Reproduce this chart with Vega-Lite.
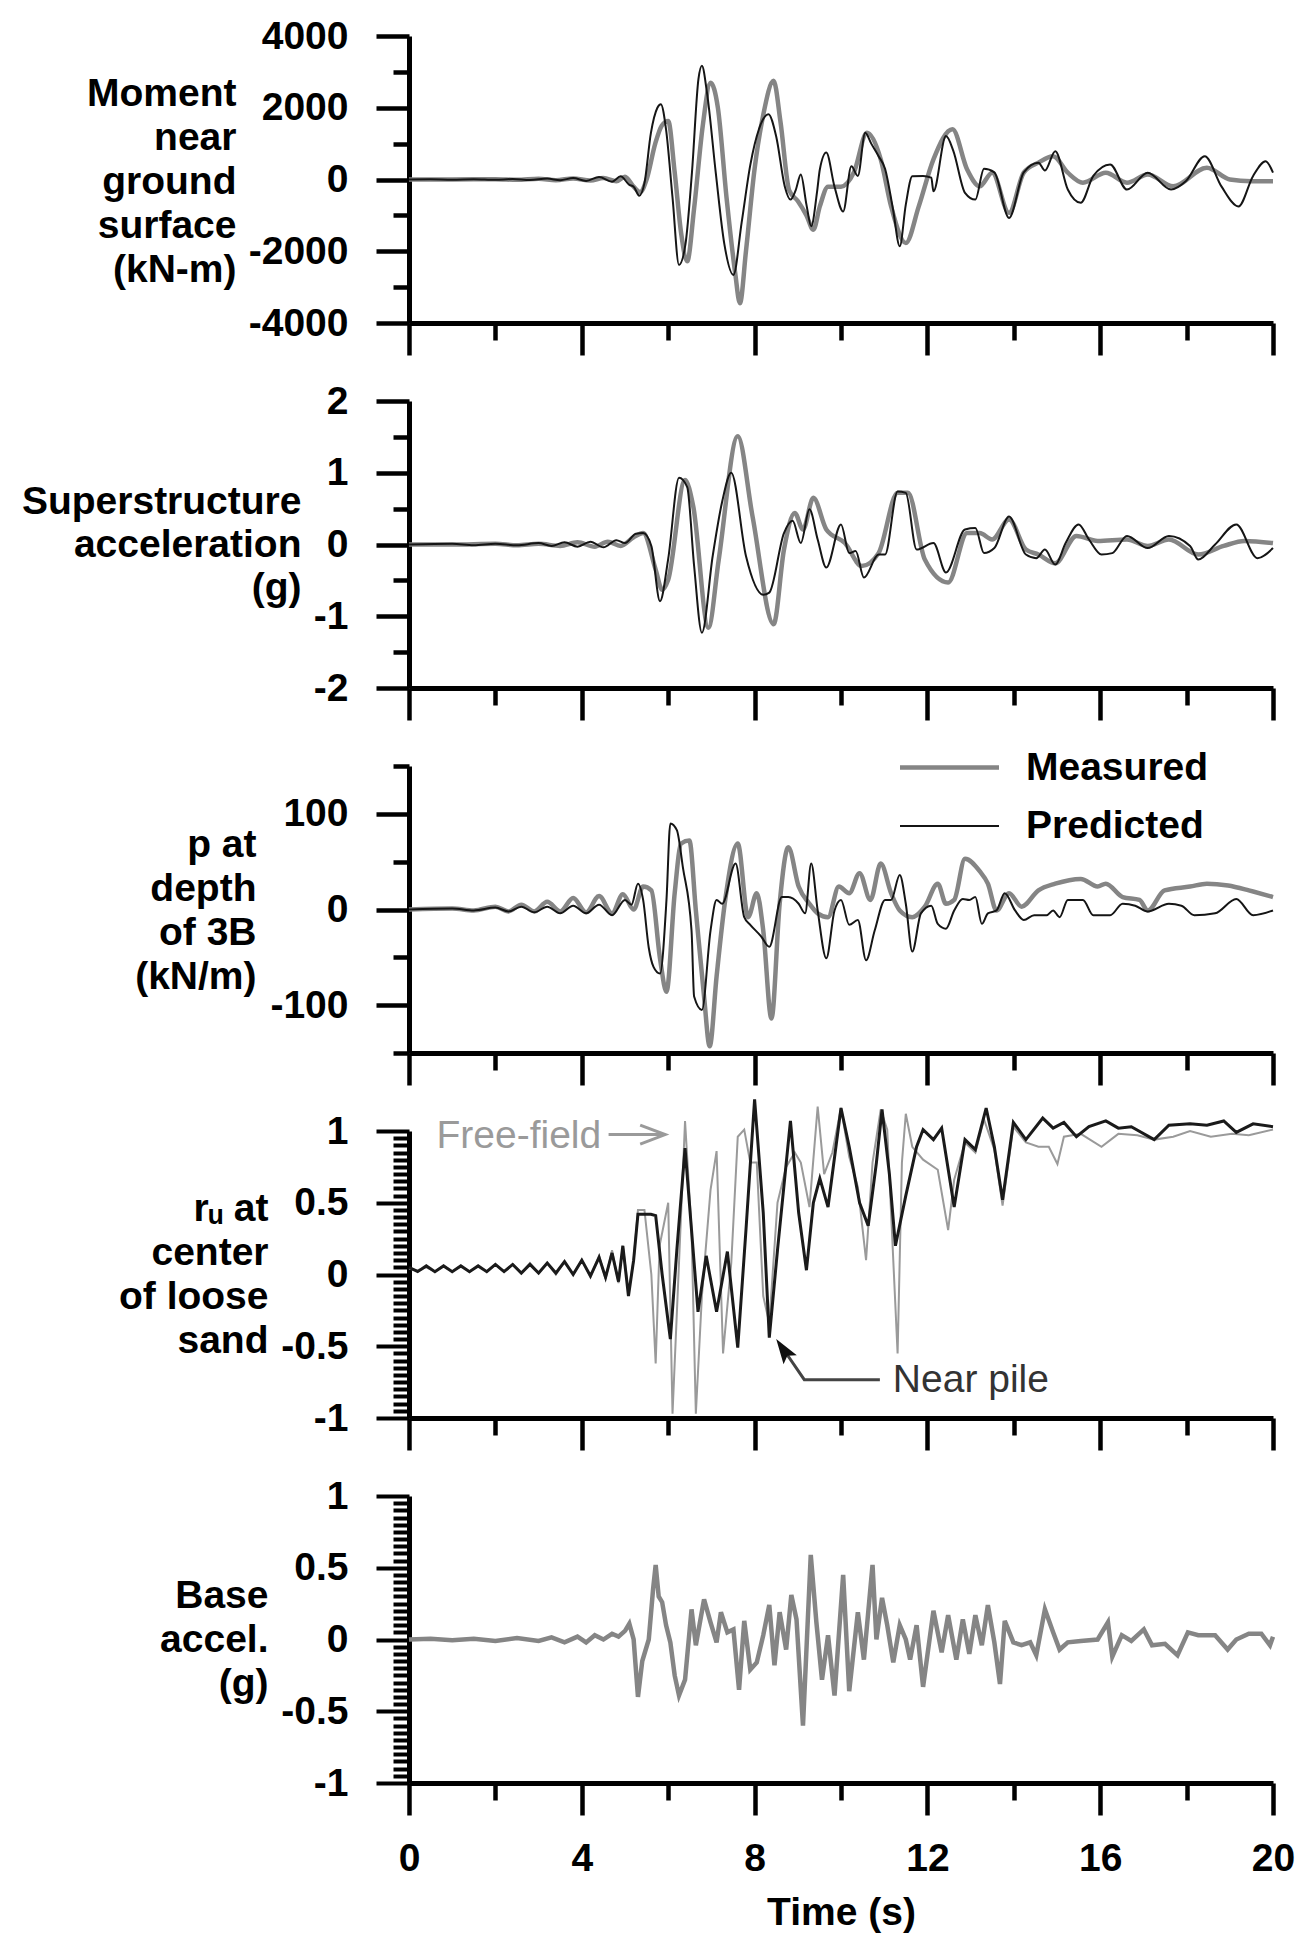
{
  "$schema": "https://vega.github.io/schema/vega-lite/v6.json",
  "background": "white",
  "padding": {"left": 21, "top": 17, "right": 6, "bottom": 2},
  "datasets": {
    "p1p": [{"t":0,"v":0},{"t":0.5,"v":5},{"t":1,"v":-5},{"t":1.5,"v":10},{"t":2,"v":-10},{"t":2.4,"v":15},{"t":2.8,"v":-15},{"t":3.2,"v":25},{"t":3.5,"v":-20},{"t":3.8,"v":40},{"t":4.1,"v":-40},{"t":4.4,"v":70},{"t":4.7,"v":-60},{"t":4.9,"v":90},{"t":5.1,"v":-150},{"t":5.2,"v":-200},{"t":5.33,"v":-450},{"t":5.45,"v":-100},{"t":5.6,"v":1300},{"t":5.75,"v":2000},{"t":5.83,"v":2100},{"t":5.95,"v":1400},{"t":6.1,"v":-500},{"t":6.25,"v":-2380},{"t":6.4,"v":-1800},{"t":6.55,"v":200},{"t":6.7,"v":2800},{"t":6.78,"v":3170},{"t":6.9,"v":2400},{"t":7.1,"v":200},{"t":7.3,"v":-1800},{"t":7.51,"v":-2660},{"t":7.7,"v":-1200},{"t":7.9,"v":400},{"t":8.1,"v":1400},{"t":8.32,"v":1820},{"t":8.5,"v":1200},{"t":8.7,"v":-200},{"t":8.83,"v":-560},{"t":8.95,"v":-300},{"t":9.07,"v":140},{"t":9.2,"v":-700},{"t":9.31,"v":-1300},{"t":9.45,"v":-300},{"t":9.51,"v":280},{"t":9.66,"v":750},{"t":9.85,"v":-200},{"t":10.05,"v":-890},{"t":10.24,"v":370},{"t":10.39,"v":100},{"t":10.56,"v":1300},{"t":10.7,"v":1000},{"t":10.87,"v":650},{"t":11.02,"v":300},{"t":11.2,"v":-800},{"t":11.36,"v":-1860},{"t":11.5,"v":-700},{"t":11.65,"v":90},{"t":11.9,"v":100},{"t":12.09,"v":50},{"t":12.14,"v":-330},{"t":12.43,"v":1210},{"t":12.6,"v":800},{"t":12.87,"v":-370},{"t":13.11,"v":-560},{"t":13.31,"v":300},{"t":13.55,"v":200},{"t":13.89,"v":-1070},{"t":14.23,"v":200},{"t":14.57,"v":470},{"t":14.72,"v":250},{"t":14.96,"v":790},{"t":15.25,"v":-280},{"t":15.55,"v":-650},{"t":15.84,"v":100},{"t":16.23,"v":420},{"t":16.62,"v":-280},{"t":17.1,"v":190},{"t":17.64,"v":-280},{"t":17.98,"v":-50},{"t":18.42,"v":650},{"t":18.81,"v":-200},{"t":19.2,"v":-750},{"t":19.54,"v":100},{"t":19.83,"v":510},{"t":20,"v":190}],
    "p1m": [{"t":0,"v":0},{"t":1,"v":0},{"t":2,"v":10},{"t":2.5,"v":-10},{"t":3,"v":20},{"t":3.4,"v":-20},{"t":3.8,"v":30},{"t":4.2,"v":-30},{"t":4.5,"v":40},{"t":4.8,"v":-50},{"t":5.0,"v":80},{"t":5.2,"v":-200},{"t":5.35,"v":-350},{"t":5.5,"v":0},{"t":5.7,"v":1000},{"t":5.85,"v":1500},{"t":6.0,"v":1630},{"t":6.15,"v":200},{"t":6.3,"v":-1500},{"t":6.44,"v":-2280},{"t":6.6,"v":-800},{"t":6.8,"v":1500},{"t":6.98,"v":2700},{"t":7.15,"v":2000},{"t":7.35,"v":-500},{"t":7.55,"v":-2600},{"t":7.66,"v":-3450},{"t":7.8,"v":-2000},{"t":8.0,"v":300},{"t":8.2,"v":1800},{"t":8.44,"v":2750},{"t":8.6,"v":1600},{"t":8.8,"v":-300},{"t":9.0,"v":-600},{"t":9.2,"v":-1000},{"t":9.36,"v":-1400},{"t":9.51,"v":-750},{"t":9.7,"v":-200},{"t":10.0,"v":-200},{"t":10.3,"v":200},{"t":10.6,"v":1300},{"t":10.92,"v":560},{"t":11.16,"v":-750},{"t":11.5,"v":-1770},{"t":11.8,"v":-750},{"t":12.14,"v":560},{"t":12.58,"v":1400},{"t":12.92,"v":280},{"t":13.21,"v":-190},{"t":13.5,"v":190},{"t":13.89,"v":-930},{"t":14.23,"v":190},{"t":14.57,"v":470},{"t":14.91,"v":650},{"t":15.25,"v":190},{"t":15.6,"v":-90},{"t":16.13,"v":190},{"t":16.62,"v":-90},{"t":17.1,"v":140},{"t":17.69,"v":-190},{"t":18.47,"v":330},{"t":19.0,"v":0},{"t":19.5,"v":-50},{"t":20,"v":-50}],
    "p2p": [{"t":0,"v":0},{"t":1,"v":0.01},{"t":1.5,"v":-0.01},{"t":2,"v":0.01},{"t":2.5,"v":-0.01},{"t":3,"v":0.02},{"t":3.3,"v":-0.02},{"t":3.6,"v":0.03},{"t":3.9,"v":-0.03},{"t":4.2,"v":0.04},{"t":4.5,"v":-0.04},{"t":4.8,"v":0.06},{"t":5.0,"v":0.02},{"t":5.25,"v":0.15},{"t":5.42,"v":0.16},{"t":5.61,"v":-0.02},{"t":5.81,"v":-0.79},{"t":6.0,"v":-0.2},{"t":6.25,"v":0.93},{"t":6.44,"v":0.8},{"t":6.6,"v":-0.3},{"t":6.78,"v":-1.23},{"t":7.03,"v":-0.16},{"t":7.25,"v":0.6},{"t":7.46,"v":1.0},{"t":7.8,"v":-0.16},{"t":8.2,"v":-0.7},{"t":8.34,"v":-0.67},{"t":8.68,"v":0.16},{"t":8.88,"v":0.33},{"t":9.07,"v":0.02},{"t":9.27,"v":0.49},{"t":9.46,"v":0.07},{"t":9.66,"v":-0.32},{"t":10.0,"v":0.28},{"t":10.19,"v":-0.12},{"t":10.34,"v":-0.09},{"t":10.53,"v":-0.46},{"t":10.87,"v":-0.14},{"t":11.02,"v":-0.14},{"t":11.31,"v":0.74},{"t":11.5,"v":0.72},{"t":11.75,"v":-0.07},{"t":12.14,"v":0.02},{"t":12.43,"v":-0.39},{"t":12.87,"v":0.21},{"t":13.11,"v":0.23},{"t":13.31,"v":-0.12},{"t":13.55,"v":-0.05},{"t":13.89,"v":0.39},{"t":14.28,"v":-0.14},{"t":14.52,"v":-0.19},{"t":14.72,"v":-0.07},{"t":14.96,"v":-0.28},{"t":15.2,"v":0.02},{"t":15.5,"v":0.28},{"t":15.74,"v":0.07},{"t":16.03,"v":-0.14},{"t":16.28,"v":-0.12},{"t":16.62,"v":0.12},{"t":17.1,"v":-0.05},{"t":17.59,"v":0.12},{"t":18.08,"v":-0.02},{"t":18.27,"v":-0.21},{"t":18.66,"v":0.0},{"t":19.15,"v":0.28},{"t":19.64,"v":-0.19},{"t":20,"v":-0.05}],
    "p2m": [{"t":0,"v":0},{"t":1,"v":0},{"t":2,"v":0.01},{"t":2.5,"v":-0.01},{"t":3,"v":0.01},{"t":3.5,"v":-0.02},{"t":3.9,"v":0.03},{"t":4.3,"v":-0.03},{"t":4.6,"v":0.04},{"t":4.9,"v":-0.02},{"t":5.2,"v":0.1},{"t":5.42,"v":0.16},{"t":5.71,"v":-0.35},{"t":5.86,"v":-0.63},{"t":6.0,"v":-0.49},{"t":6.39,"v":0.9},{"t":6.58,"v":0.53},{"t":6.93,"v":-1.16},{"t":7.17,"v":-0.21},{"t":7.61,"v":1.51},{"t":7.95,"v":0.4},{"t":8.44,"v":-1.11},{"t":8.68,"v":-0.07},{"t":8.93,"v":0.44},{"t":9.12,"v":0.21},{"t":9.36,"v":0.65},{"t":9.66,"v":0.21},{"t":10.09,"v":0.02},{"t":10.48,"v":-0.3},{"t":10.87,"v":-0.12},{"t":11.31,"v":0.72},{"t":11.55,"v":0.72},{"t":11.94,"v":-0.21},{"t":12.48,"v":-0.53},{"t":12.92,"v":0.16},{"t":13.21,"v":0.16},{"t":13.5,"v":0.07},{"t":13.89,"v":0.35},{"t":14.28,"v":-0.07},{"t":14.57,"v":-0.14},{"t":14.96,"v":-0.26},{"t":15.45,"v":0.12},{"t":15.94,"v":0.05},{"t":16.62,"v":0.07},{"t":17.1,"v":-0.02},{"t":17.59,"v":0.07},{"t":18.27,"v":-0.14},{"t":18.86,"v":-0.02},{"t":19.34,"v":0.05},{"t":20,"v":0.02}],
    "p3p": [{"t":0,"v":0},{"t":1,"v":1},{"t":1.5,"v":-1},{"t":2,"v":2},{"t":2.3,"v":-2},{"t":2.6,"v":3},{"t":2.9,"v":-3},{"t":3.2,"v":3},{"t":3.5,"v":-4},{"t":3.8,"v":4},{"t":4.1,"v":-4},{"t":4.4,"v":5},{"t":4.7,"v":-6},{"t":5.0,"v":10},{"t":5.15,"v":5},{"t":5.3,"v":27},{"t":5.42,"v":10},{"t":5.55,"v":-40},{"t":5.66,"v":-60},{"t":5.81,"v":-67},{"t":5.96,"v":10},{"t":6.05,"v":90},{"t":6.2,"v":83},{"t":6.34,"v":44},{"t":6.54,"v":-22},{"t":6.6,"v":-91},{"t":6.78,"v":-105},{"t":6.98,"v":-22},{"t":7.12,"v":10},{"t":7.25,"v":6},{"t":7.56,"v":48},{"t":7.76,"v":-8},{"t":7.9,"v":-16},{"t":8.15,"v":-28},{"t":8.34,"v":-39},{"t":8.63,"v":13},{"t":8.78,"v":13},{"t":9.02,"v":6},{"t":9.17,"v":-4},{"t":9.31,"v":48},{"t":9.46,"v":-1},{"t":9.66,"v":-51},{"t":9.85,"v":-1},{"t":10.0,"v":10},{"t":10.19,"v":-16},{"t":10.39,"v":-11},{"t":10.58,"v":-53},{"t":10.78,"v":-22},{"t":11.02,"v":10},{"t":11.16,"v":10},{"t":11.36,"v":36},{"t":11.5,"v":6},{"t":11.65,"v":-44},{"t":11.85,"v":-4},{"t":12.09,"v":4},{"t":12.24,"v":-15},{"t":12.43,"v":-20},{"t":12.62,"v":-1},{"t":12.82,"v":11},{"t":12.97,"v":10},{"t":13.11,"v":13},{"t":13.26,"v":-15},{"t":13.4,"v":-4},{"t":13.6,"v":-1},{"t":13.79,"v":17},{"t":14.03,"v":-1},{"t":14.23,"v":-11},{"t":14.47,"v":-6},{"t":14.76,"v":-6},{"t":14.91,"v":-1},{"t":15.06,"v":-8},{"t":15.25,"v":10},{"t":15.6,"v":10},{"t":15.84,"v":-6},{"t":16.23,"v":-6},{"t":16.52,"v":6},{"t":16.81,"v":4},{"t":17.1,"v":-2},{"t":17.59,"v":6},{"t":17.88,"v":4},{"t":18.18,"v":-6},{"t":18.66,"v":-4},{"t":19.15,"v":11},{"t":19.54,"v":-6},{"t":20,"v":-1}],
    "p3m": [{"t":0,"v":0},{"t":1,"v":1},{"t":1.5,"v":-1},{"t":2,"v":3},{"t":2.3,"v":-2},{"t":2.6,"v":5},{"t":2.9,"v":-2},{"t":3.2,"v":8},{"t":3.5,"v":-2},{"t":3.8,"v":12},{"t":4.1,"v":-3},{"t":4.4,"v":14},{"t":4.7,"v":-4},{"t":4.95,"v":16},{"t":5.2,"v":0},{"t":5.42,"v":24},{"t":5.61,"v":20},{"t":5.81,"v":-51},{"t":5.96,"v":-86},{"t":6.15,"v":17},{"t":6.3,"v":69},{"t":6.49,"v":72},{"t":6.64,"v":-1},{"t":6.83,"v":-91},{"t":6.96,"v":-143},{"t":7.12,"v":-70},{"t":7.32,"v":10},{"t":7.61,"v":69},{"t":7.85,"v":-8},{"t":8.05,"v":17},{"t":8.2,"v":-22},{"t":8.39,"v":-114},{"t":8.58,"v":6},{"t":8.78,"v":65},{"t":9.02,"v":24},{"t":9.27,"v":6},{"t":9.46,"v":-4},{"t":9.7,"v":-8},{"t":9.95,"v":24},{"t":10.19,"v":17},{"t":10.43,"v":38},{"t":10.68,"v":10},{"t":10.92,"v":48},{"t":11.16,"v":17},{"t":11.36,"v":-1},{"t":11.65,"v":-8},{"t":11.94,"v":3},{"t":12.24,"v":27},{"t":12.43,"v":6},{"t":12.62,"v":10},{"t":12.87,"v":53},{"t":13.21,"v":40},{"t":13.4,"v":27},{"t":13.6,"v":-1},{"t":13.89,"v":17},{"t":14.18,"v":3},{"t":14.57,"v":20},{"t":14.96,"v":27},{"t":15.55,"v":32},{"t":15.94,"v":24},{"t":16.13,"v":27},{"t":16.52,"v":13},{"t":16.91,"v":10},{"t":17.1,"v":-1},{"t":17.49,"v":20},{"t":18.08,"v":24},{"t":18.47,"v":27},{"t":18.96,"v":25},{"t":19.44,"v":20},{"t":20,"v":13}],
    "p4n": [{"t":0,"v":0.05},{"t":0.2,"v":0.02},{"t":0.4,"v":0.06},{"t":0.6,"v":0.02},{"t":0.8,"v":0.06},{"t":1.0,"v":0.02},{"t":1.2,"v":0.06},{"t":1.4,"v":0.02},{"t":1.6,"v":0.06},{"t":1.8,"v":0.02},{"t":2.0,"v":0.07},{"t":2.2,"v":0.02},{"t":2.4,"v":0.07},{"t":2.6,"v":0.01},{"t":2.8,"v":0.07},{"t":3.0,"v":0.01},{"t":3.2,"v":0.08},{"t":3.4,"v":0.01},{"t":3.6,"v":0.09},{"t":3.8,"v":0.0},{"t":4.0,"v":0.1},{"t":4.2,"v":-0.01},{"t":4.4,"v":0.12},{"t":4.55,"v":-0.02},{"t":4.7,"v":0.15},{"t":4.85,"v":-0.05},{"t":4.95,"v":0.2},{"t":5.08,"v":-0.15},{"t":5.2,"v":0.1},{"t":5.3,"v":0.42},{"t":5.42,"v":0.42},{"t":5.6,"v":0.42},{"t":5.71,"v":0.41},{"t":5.86,"v":0.0},{"t":6.05,"v":-0.45},{"t":6.2,"v":0.17},{"t":6.39,"v":0.88},{"t":6.54,"v":0.31},{"t":6.69,"v":-0.26},{"t":6.88,"v":0.13},{"t":7.12,"v":-0.26},{"t":7.37,"v":0.16},{"t":7.61,"v":-0.51},{"t":7.8,"v":0.31},{"t":8.0,"v":1.22},{"t":8.2,"v":0.43},{"t":8.34,"v":-0.44},{"t":8.53,"v":0.17},{"t":8.83,"v":1.07},{"t":9.02,"v":0.43},{"t":9.2,"v":0.03},{"t":9.36,"v":0.5},{"t":9.51,"v":0.67},{"t":9.7,"v":0.47},{"t":10.0,"v":1.16},{"t":10.19,"v":0.89},{"t":10.43,"v":0.5},{"t":10.63,"v":0.34},{"t":10.82,"v":0.78},{"t":10.95,"v":1.15},{"t":11.12,"v":0.7},{"t":11.26,"v":0.2},{"t":11.5,"v":0.55},{"t":11.75,"v":0.89},{"t":11.9,"v":1.01},{"t":12.14,"v":0.94},{"t":12.33,"v":1.02},{"t":12.62,"v":0.47},{"t":12.87,"v":0.94},{"t":13.11,"v":0.87},{"t":13.36,"v":1.16},{"t":13.55,"v":0.89},{"t":13.74,"v":0.52},{"t":13.99,"v":1.06},{"t":14.28,"v":0.94},{"t":14.67,"v":1.09},{"t":14.91,"v":1.02},{"t":15.16,"v":1.06},{"t":15.45,"v":0.96},{"t":15.74,"v":1.03},{"t":16.13,"v":1.07},{"t":16.42,"v":1.02},{"t":16.72,"v":1.03},{"t":17.25,"v":0.94},{"t":17.59,"v":1.04},{"t":18.08,"v":1.05},{"t":18.47,"v":1.04},{"t":18.86,"v":1.07},{"t":19.15,"v":0.99},{"t":19.54,"v":1.05},{"t":20,"v":1.03}],
    "p4f": [{"t":0,"v":0.04},{"t":0.2,"v":0.03},{"t":0.4,"v":0.05},{"t":0.6,"v":0.02},{"t":0.8,"v":0.06},{"t":1.0,"v":0.02},{"t":1.2,"v":0.06},{"t":1.4,"v":0.02},{"t":1.6,"v":0.06},{"t":1.8,"v":0.02},{"t":2.0,"v":0.07},{"t":2.2,"v":0.02},{"t":2.4,"v":0.07},{"t":2.6,"v":0.01},{"t":2.8,"v":0.08},{"t":3.0,"v":0.01},{"t":3.2,"v":0.08},{"t":3.4,"v":0.0},{"t":3.6,"v":0.09},{"t":3.8,"v":0.0},{"t":4.0,"v":0.1},{"t":4.2,"v":-0.02},{"t":4.4,"v":0.13},{"t":4.55,"v":-0.03},{"t":4.7,"v":0.17},{"t":4.85,"v":-0.06},{"t":4.95,"v":0.2},{"t":5.08,"v":-0.12},{"t":5.2,"v":0.1},{"t":5.3,"v":0.45},{"t":5.45,"v":0.45},{"t":5.61,"v":0.0},{"t":5.71,"v":-0.62},{"t":5.8,"v":0.2},{"t":6.0,"v":0.5},{"t":6.1,"v":-0.97},{"t":6.25,"v":0.08},{"t":6.39,"v":1.07},{"t":6.54,"v":0.31},{"t":6.64,"v":-0.97},{"t":6.78,"v":-0.15},{"t":6.98,"v":0.59},{"t":7.12,"v":0.86},{"t":7.27,"v":-0.55},{"t":7.46,"v":0.08},{"t":7.61,"v":0.96},{"t":7.76,"v":1.01},{"t":7.9,"v":0.78},{"t":8.05,"v":0.78},{"t":8.2,"v":-0.15},{"t":8.34,"v":-0.34},{"t":8.53,"v":0.5},{"t":8.73,"v":0.75},{"t":8.93,"v":0.85},{"t":9.07,"v":0.78},{"t":9.27,"v":0.47},{"t":9.46,"v":1.17},{"t":9.61,"v":0.7},{"t":9.8,"v":0.85},{"t":10.0,"v":1.16},{"t":10.19,"v":0.82},{"t":10.39,"v":0.61},{"t":10.58,"v":0.1},{"t":10.73,"v":0.78},{"t":10.92,"v":1.15},{"t":11.07,"v":1.01},{"t":11.31,"v":-0.55},{"t":11.41,"v":0.78},{"t":11.5,"v":1.12},{"t":11.65,"v":0.89},{"t":11.9,"v":0.8},{"t":12.24,"v":0.73},{"t":12.48,"v":0.31},{"t":12.62,"v":0.66},{"t":12.87,"v":0.92},{"t":13.11,"v":0.85},{"t":13.31,"v":1.08},{"t":13.55,"v":0.87},{"t":13.74,"v":0.48},{"t":13.99,"v":1.03},{"t":14.28,"v":0.92},{"t":14.57,"v":0.89},{"t":14.81,"v":0.89},{"t":15.01,"v":0.77},{"t":15.16,"v":0.96},{"t":15.55,"v":0.98},{"t":16.03,"v":0.89},{"t":16.42,"v":0.98},{"t":16.86,"v":0.97},{"t":17.25,"v":0.94},{"t":17.69,"v":0.96},{"t":18.08,"v":1.0},{"t":18.56,"v":0.96},{"t":19.05,"v":0.98},{"t":19.44,"v":0.97},{"t":20,"v":1.01}],
    "p5": [{"t":0,"v":0},{"t":0.5,"v":0.005},{"t":1,"v":-0.005},{"t":1.5,"v":0.005},{"t":2,"v":-0.01},{"t":2.5,"v":0.01},{"t":3,"v":-0.01},{"t":3.3,"v":0.015},{"t":3.6,"v":-0.02},{"t":3.9,"v":0.02},{"t":4.1,"v":-0.02},{"t":4.3,"v":0.03},{"t":4.5,"v":0.0},{"t":4.7,"v":0.04},{"t":4.85,"v":0.02},{"t":5.0,"v":0.06},{"t":5.1,"v":0.11},{"t":5.2,"v":0.0},{"t":5.3,"v":-0.4},{"t":5.4,"v":-0.15},{"t":5.55,"v":0.0},{"t":5.65,"v":0.35},{"t":5.71,"v":0.52},{"t":5.78,"v":0.3},{"t":5.86,"v":0.26},{"t":5.95,"v":0.1},{"t":6.05,"v":-0.02},{"t":6.15,"v":-0.25},{"t":6.25,"v":-0.39},{"t":6.39,"v":-0.28},{"t":6.54,"v":0.21},{"t":6.64,"v":-0.04},{"t":6.83,"v":0.28},{"t":6.98,"v":0.12},{"t":7.12,"v":-0.02},{"t":7.22,"v":0.19},{"t":7.37,"v":0.05},{"t":7.51,"v":0.07},{"t":7.64,"v":-0.35},{"t":7.76,"v":0.13},{"t":7.9,"v":-0.21},{"t":8.05,"v":-0.16},{"t":8.2,"v":0.03},{"t":8.34,"v":0.24},{"t":8.46,"v":-0.18},{"t":8.58,"v":0.19},{"t":8.73,"v":-0.07},{"t":8.85,"v":0.31},{"t":8.97,"v":0.14},{"t":9.12,"v":-0.6},{"t":9.3,"v":0.59},{"t":9.43,"v":0.12},{"t":9.56,"v":-0.28},{"t":9.7,"v":0.03},{"t":9.85,"v":-0.39},{"t":10.05,"v":0.45},{"t":10.19,"v":-0.36},{"t":10.39,"v":0.19},{"t":10.53,"v":-0.14},{"t":10.73,"v":0.52},{"t":10.82,"v":0.0},{"t":10.95,"v":0.29},{"t":11.07,"v":0.1},{"t":11.21,"v":-0.16},{"t":11.36,"v":0.1},{"t":11.5,"v":0.0},{"t":11.6,"v":-0.14},{"t":11.75,"v":0.1},{"t":11.9,"v":-0.33},{"t":12.14,"v":0.2},{"t":12.33,"v":-0.09},{"t":12.48,"v":0.17},{"t":12.67,"v":-0.14},{"t":12.82,"v":0.14},{"t":12.97,"v":-0.1},{"t":13.11,"v":0.17},{"t":13.26,"v":-0.04},{"t":13.4,"v":0.24},{"t":13.55,"v":-0.02},{"t":13.68,"v":-0.31},{"t":13.79,"v":0.13},{"t":13.99,"v":-0.02},{"t":14.18,"v":-0.04},{"t":14.38,"v":-0.02},{"t":14.52,"v":-0.11},{"t":14.72,"v":0.21},{"t":14.91,"v":0.05},{"t":15.06,"v":-0.07},{"t":15.25,"v":-0.02},{"t":15.55,"v":-0.01},{"t":15.94,"v":0.0},{"t":16.18,"v":0.12},{"t":16.28,"v":-0.12},{"t":16.5,"v":0.03},{"t":16.72,"v":-0.01},{"t":17.01,"v":0.07},{"t":17.2,"v":-0.04},{"t":17.5,"v":-0.03},{"t":17.79,"v":-0.11},{"t":18.03,"v":0.05},{"t":18.27,"v":0.03},{"t":18.66,"v":0.03},{"t":18.95,"v":-0.07},{"t":19.15,"v":0.0},{"t":19.44,"v":0.04},{"t":19.73,"v":0.04},{"t":19.93,"v":-0.04},{"t":20,"v":0.02}]
  },
  "config": {
    "view": {"stroke": null},
    "font": "Liberation Sans",
    "axis": {
      "domainColor": "black", "domainWidth": 5, "tickColor": "black", "tickWidth": 4.5,
      "labelFont": "Liberation Sans", "labelFontSize": 39, "labelFontWeight": "bold", "labelColor": "black",
      "titleFont": "Liberation Sans", "titleFontSize": 39, "titleFontWeight": "bold", "titleColor": "black",
      "grid": false, "labelOverlap": false, "labelFlush": false, "labelBound": false, "labelLimit": 500, "titleLimit": 1000, "tickCount": 100
    }
  },
  "spacing": 78,
  "bounds": "flush",
  "resolve": {"scale": {"color": "independent", "strokeWidth": "independent"}, "legend": {"color": "independent", "strokeWidth": "independent"}},
  "vconcat": [
    {
      "width": 864, "height": 287,
      "layer": [
        {"data": {"name": "p1m"}, "mark": {"type": "line", "color": "#858585", "strokeWidth": 4.5, "interpolate": "monotone"},
         "encoding": {
           "x": {"field": "t", "type": "quantitative", "scale": {"domain": [0, 20], "nice": false},
                 "axis": {"values": [0,2,4,6,8,10,12,14,16,18,20], "tickCount": 100, "labels": false, "title": null,
                          "tickSize": {"condition": {"test": "datum.value % 4 === 0", "value": 32}, "value": 17}}},
           "y": {"field": "v", "type": "quantitative", "scale": {"domain": [-4000, 4000], "nice": false},
                 "axis": {"values": [-4000,-3000,-2000,-1000,0,1000,2000,3000,4000], "tickCount": 100,
                          "labelExpr": "datum.value % 2000 === 0 ? '' + datum.value : ''",
                          "tickSize": {"condition": {"test": "datum.value % 2000 === 0", "value": 33}, "value": 16},
                          "labelPadding": 28,
                          "title": ["Moment", "near", "ground", "surface", "(kN-m)"],
                          "titleAngle": 0, "titleAlign": "right", "titleBaseline": "middle", "titleX": -173, "titleY": 57, "titleLineHeight": 44}}
         }},
        {"data": {"name": "p1p"}, "mark": {"type": "line", "color": "#151515", "strokeWidth": 2, "interpolate": "monotone"},
         "encoding": {"x": {"field": "t", "type": "quantitative"}, "y": {"field": "v", "type": "quantitative"}}}
      ]
    },
    {
      "width": 864, "height": 287,
      "layer": [
        {"data": {"name": "p2m"}, "mark": {"type": "line", "color": "#858585", "strokeWidth": 4.5, "interpolate": "monotone"},
         "encoding": {
           "x": {"field": "t", "type": "quantitative", "scale": {"domain": [0, 20], "nice": false},
                 "axis": {"values": [0,2,4,6,8,10,12,14,16,18,20], "tickCount": 100, "labels": false, "title": null,
                          "tickSize": {"condition": {"test": "datum.value % 4 === 0", "value": 32}, "value": 17}}},
           "y": {"field": "v", "type": "quantitative", "scale": {"domain": [-2, 2], "nice": false},
                 "axis": {"values": [-2,-1.5,-1,-0.5,0,0.5,1,1.5,2], "tickCount": 100,
                          "labelExpr": "datum.value % 1 === 0 ? '' + datum.value : ''",
                          "tickSize": {"condition": {"test": "datum.value % 1 === 0", "value": 33}, "value": 16},
                          "labelPadding": 28,
                          "title": ["Superstructure", "acceleration", "(g)"],
                          "titleAngle": 0, "titleAlign": "right", "titleBaseline": "middle", "titleX": -108, "titleY": 100, "titleLineHeight": 43}}
         }},
        {"data": {"name": "p2p"}, "mark": {"type": "line", "color": "#151515", "strokeWidth": 2, "interpolate": "monotone"},
         "encoding": {"x": {"field": "t", "type": "quantitative"}, "y": {"field": "v", "type": "quantitative"}}}
      ]
    },
    {
      "width": 864, "height": 287,
      "layer": [
        {"data": {"name": "p3m"}, "mark": {"type": "line", "interpolate": "monotone"},
         "encoding": {
           "x": {"field": "t", "type": "quantitative", "scale": {"domain": [0, 20], "nice": false},
                 "axis": {"values": [0,2,4,6,8,10,12,14,16,18,20], "tickCount": 100, "labels": false, "title": null,
                          "tickSize": {"condition": {"test": "datum.value % 4 === 0", "value": 32}, "value": 17}}},
           "y": {"field": "v", "type": "quantitative", "scale": {"domain": [-150, 150], "nice": false},
                 "axis": {"values": [-150,-100,-50,0,50,100,150], "tickCount": 100,
                          "labelExpr": "datum.value % 100 === 0 ? '' + datum.value : ''",
                          "tickSize": {"condition": {"test": "datum.value % 100 === 0", "value": 33}, "value": 16},
                          "labelPadding": 28,
                          "title": ["p at", "depth", "of 3B", "(kN/m)"],
                          "titleAngle": 0, "titleAlign": "right", "titleBaseline": "middle", "titleX": -153, "titleY": 78, "titleLineHeight": 44}},
           "color": {"datum": "Measured", "type": "nominal",
                     "scale": {"domain": ["Measured", "Predicted"], "range": ["#858585", "#151515"]},
                     "legend": {"title": null, "orient": "none", "legendX": 518, "legendY": -21, "padding": 0,
                                "labelFont": "Liberation Sans", "labelFontSize": 39, "labelFontWeight": "bold", "labelColor": "black", "labelLimit": 500,
                                "symbolType": "M-2.5,0H2.5", "symbolSize": 1568, "labelOffset": 54, "rowPadding": 17}},
           "strokeWidth": {"datum": "Measured", "type": "nominal",
                           "scale": {"domain": ["Measured", "Predicted"], "range": [4.5, 2]},
                           "legend": {"title": null, "orient": "none", "legendX": 518, "legendY": -21, "padding": 0,
                                      "labelFont": "Liberation Sans", "labelFontSize": 39, "labelFontWeight": "bold", "labelColor": "black", "labelLimit": 500,
                                      "symbolType": "M-2.5,0H2.5", "symbolSize": 1568, "labelOffset": 54, "rowPadding": 17}}
         }},
        {"data": {"name": "p3p"}, "mark": {"type": "line", "interpolate": "monotone"},
         "encoding": {"x": {"field": "t", "type": "quantitative"}, "y": {"field": "v", "type": "quantitative"},
                      "color": {"datum": "Predicted", "type": "nominal"},
                      "strokeWidth": {"datum": "Predicted", "type": "nominal"}}}
      ]
    },
    {
      "width": 864, "height": 287,
      "layer": [
        {"data": {"name": "p4f"}, "mark": {"type": "line", "color": "#9a9a9a", "strokeWidth": 2},
         "encoding": {
           "x": {"field": "t", "type": "quantitative", "scale": {"domain": [0, 20], "nice": false},
                 "axis": {"values": [0,2,4,6,8,10,12,14,16,18,20], "tickCount": 100, "labels": false, "title": null,
                          "tickSize": {"condition": {"test": "datum.value % 4 === 0", "value": 32}, "value": 17}}},
           "y": {"field": "v", "type": "quantitative", "scale": {"domain": [-1, 1], "nice": false},
                 "axis": {"values": [-1,-0.95,-0.9,-0.85,-0.8,-0.75,-0.7,-0.65,-0.6,-0.55,-0.5,-0.45,-0.4,-0.35,-0.3,-0.25,-0.2,-0.15,-0.1,-0.05,0,0.05,0.1,0.15,0.2,0.25,0.3,0.35,0.4,0.45,0.5,0.55,0.6,0.65,0.7,0.75,0.8,0.85,0.9,0.95,1],
                          "tickCount": 100,
                          "labelExpr": "datum.value % 0.5 === 0 ? '' + datum.value : ''",
                          "tickSize": {"condition": {"test": "datum.value % 0.5 === 0", "value": 33}, "value": 16},
                          "tickWidth": 4,
                          "labelPadding": 28,
                          "title": ["rᵤ at", "center", "of loose", "sand"],
                          "titleAngle": 0, "titleAlign": "right", "titleBaseline": "middle", "titleX": -141, "titleY": 77, "titleLineHeight": 44}}
         }},
        {"data": {"name": "p4n"}, "mark": {"type": "line", "color": "#1a1a1a", "strokeWidth": 3},
         "encoding": {"x": {"field": "t", "type": "quantitative"}, "y": {"field": "v", "type": "quantitative"}}},
        {"data": {"values": [{"t": 4.45, "v": 0.965, "label": "Free-field"}]},
         "mark": {"type": "text", "align": "right", "baseline": "middle", "font": "Liberation Sans", "fontSize": 39, "color": "#9a9a9a"},
         "encoding": {"x": {"field": "t", "type": "quantitative"}, "y": {"field": "v", "type": "quantitative"}, "text": {"field": "label"}}},
        {"data": {"values": [{"t": 4.62, "v": 0.975}, {"t": 5.9, "v": 0.975}]},
         "mark": {"type": "line", "color": "#9a9a9a", "strokeWidth": 3},
         "encoding": {"x": {"field": "t", "type": "quantitative"}, "y": {"field": "v", "type": "quantitative"}}},
        {"data": {"values": [{"t": 5.93, "v": 0.975}]},
         "mark": {"type": "point", "shape": "M-1,-0.38L0,0L-1,0.38", "size": 2500, "filled": false, "color": "#9a9a9a", "strokeWidth": 3, "opacity": 1},
         "encoding": {"x": {"field": "t", "type": "quantitative"}, "y": {"field": "v", "type": "quantitative"}}},
        {"data": {"values": [{"t": 11.2, "v": -0.733, "label": "Near pile"}]},
         "mark": {"type": "text", "align": "left", "baseline": "middle", "font": "Liberation Sans", "fontSize": 39, "color": "#333333"},
         "encoding": {"x": {"field": "t", "type": "quantitative"}, "y": {"field": "v", "type": "quantitative"}, "text": {"field": "label"}}},
        {"data": {"values": [{"t": 8.62, "v": -0.5}, {"t": 9.15, "v": -0.733}, {"t": 10.9, "v": -0.733}]},
         "mark": {"type": "line", "color": "#444444", "strokeWidth": 3},
         "encoding": {"x": {"field": "t", "type": "quantitative"}, "y": {"field": "v", "type": "quantitative"}}},
        {"data": {"values": [{"t": 8.5, "v": -0.45}]},
         "mark": {"type": "point", "shape": "M0,0L-0.32,1L0,0.8L0.32,1Z", "size": 2500, "filled": true, "color": "#111111", "angle": -34, "opacity": 1},
         "encoding": {"x": {"field": "t", "type": "quantitative"}, "y": {"field": "v", "type": "quantitative"}}}
      ]
    },
    {
      "width": 864, "height": 287,
      "layer": [
        {"data": {"name": "p5"}, "mark": {"type": "line", "color": "#858585", "strokeWidth": 4.5},
         "encoding": {
           "x": {"field": "t", "type": "quantitative", "scale": {"domain": [0, 20], "nice": false},
                 "axis": {"values": [0,2,4,6,8,10,12,14,16,18,20], "tickCount": 100,
                          "labelExpr": "datum.value % 4 === 0 ? '' + datum.value : ''",
                          "tickSize": {"condition": {"test": "datum.value % 4 === 0", "value": 32}, "value": 17},
                          "labelPadding": 24,
                          "title": "Time (s)", "titleBaseline": "middle", "titleY": 129}},
           "y": {"field": "v", "type": "quantitative", "scale": {"domain": [-1, 1], "nice": false},
                 "axis": {"values": [-1,-0.95,-0.9,-0.85,-0.8,-0.75,-0.7,-0.65,-0.6,-0.55,-0.5,-0.45,-0.4,-0.35,-0.3,-0.25,-0.2,-0.15,-0.1,-0.05,0,0.05,0.1,0.15,0.2,0.25,0.3,0.35,0.4,0.45,0.5,0.55,0.6,0.65,0.7,0.75,0.8,0.85,0.9,0.95,1],
                          "tickCount": 100,
                          "labelExpr": "datum.value % 0.5 === 0 ? '' + datum.value : ''",
                          "tickSize": {"condition": {"test": "datum.value % 0.5 === 0", "value": 33}, "value": 16},
                          "tickWidth": 4,
                          "labelPadding": 28,
                          "title": ["Base", "accel.", "(g)"],
                          "titleAngle": 0, "titleAlign": "right", "titleBaseline": "middle", "titleX": -141, "titleY": 99, "titleLineHeight": 44}}
         }}
      ]
    }
  ]
}
